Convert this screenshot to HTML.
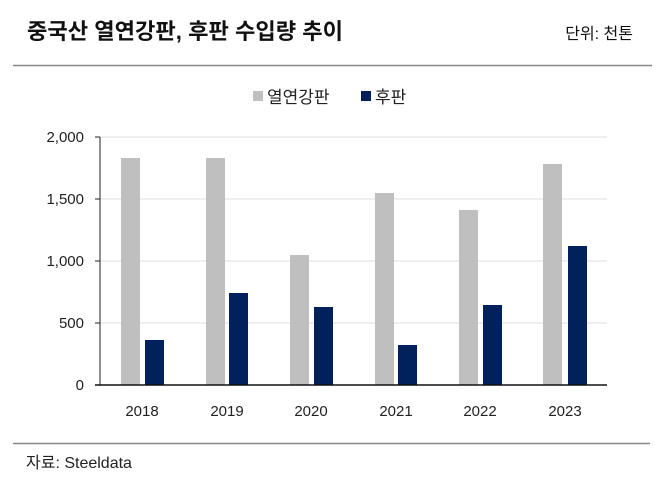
<!DOCTYPE html>
<html><head><meta charset="utf-8"><style>
body{margin:0;background:#fff;width:659px;height:488px;overflow:hidden;font-family:"Liberation Sans","Noto Sans CJK KR",sans-serif}
</style></head><body>
<svg width="659" height="488" xmlns="http://www.w3.org/2000/svg" font-family="Liberation Sans, Noto Sans CJK KR, sans-serif">
<text x="27" y="39" font-size="22" font-weight="bold" fill="#111" textLength="316" lengthAdjust="spacingAndGlyphs">중국산 열연강판, 후판 수입량 추이</text>
<text x="633" y="39" font-size="16" fill="#111" text-anchor="end">단위: 천톤</text>
<line x1="13" y1="65.5" x2="652" y2="65.5" stroke="#888" stroke-width="1.5"/>
<rect x="253" y="91" width="10" height="10" fill="#bfbfbf"/>
<text x="267" y="103" font-size="17" fill="#222">열연강판</text>
<rect x="361" y="91" width="10" height="10" fill="#00215b"/>
<text x="375" y="103" font-size="17" fill="#222">후판</text>
<g stroke="#ddd" stroke-width="1">
<line x1="100" y1="137" x2="607" y2="137"/><line x1="100" y1="199" x2="607" y2="199"/>
<line x1="100" y1="261" x2="607" y2="261"/><line x1="100" y1="323" x2="607" y2="323"/>
</g>
<g font-size="15" fill="#222" text-anchor="end">
<text x="84" y="142">2,000</text><text x="84" y="204">1,500</text><text x="84" y="266">1,000</text><text x="84" y="328">500</text><text x="84" y="390">0</text>
</g>
<g stroke="#222" stroke-width="1"><line x1="100" y1="137" x2="100" y2="385"/>
<line x1="95" y1="137" x2="100" y2="137"/><line x1="95" y1="199" x2="100" y2="199"/><line x1="95" y1="261" x2="100" y2="261"/><line x1="95" y1="323" x2="100" y2="323"/><line x1="95" y1="385" x2="100" y2="385"/></g>
<g fill="#bfbfbf">
<rect x="121" y="158" width="19" height="227"/><rect x="206" y="158" width="19" height="227"/><rect x="290" y="255" width="19" height="130"/>
<rect x="375" y="193" width="19" height="192"/><rect x="459" y="210" width="19" height="175"/><rect x="543" y="164" width="19" height="221"/>
</g>
<g fill="#00215b">
<rect x="145" y="340" width="19" height="45"/><rect x="229" y="293" width="19" height="92"/><rect x="314" y="307" width="19" height="78"/>
<rect x="398" y="345" width="19" height="40"/><rect x="483" y="305" width="19" height="80"/><rect x="568" y="246" width="19" height="139"/>
</g>
<line x1="95" y1="385" x2="607" y2="385" stroke="#111" stroke-width="1.5"/>
<g font-size="15" fill="#222" text-anchor="middle">
<text x="142" y="416">2018</text><text x="227" y="416">2019</text><text x="311" y="416">2020</text><text x="396" y="416">2021</text><text x="480" y="416">2022</text><text x="565" y="416">2023</text>
</g>
<line x1="13" y1="443.5" x2="650" y2="443.5" stroke="#888" stroke-width="1.5"/>
<text x="26" y="468" font-size="16" fill="#222">자료: Steeldata</text>
</svg>
</body></html>
